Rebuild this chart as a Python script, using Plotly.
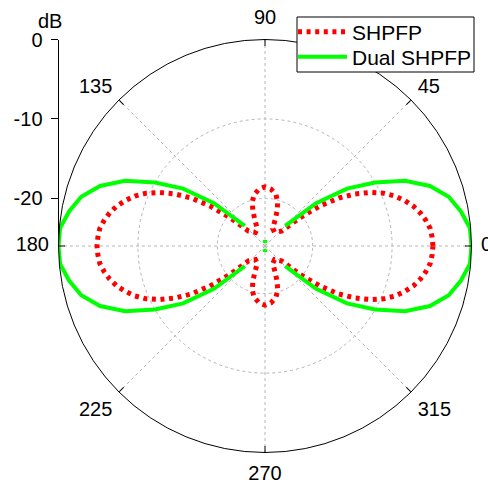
import plotly.graph_objects as go

FONT = "Liberation Sans, Arial, sans-serif"

# ---- data (dB vs angle in degrees) ----
shpfp_theta = [0, 3, 6, 9, 12, 15, 18, 21, 24, 27, 30, 33, 36, 39, 42, 55, 66, 69, 71, 74, 78, 84, 90,
               96, 102, 106, 109, 111, 114, 125, 138, 141, 144, 147, 150, 153, 156, 159, 162, 165, 168, 171, 174, 177, 180,
               183, 186, 189, 192, 195, 198, 201, 204, 207, 210, 213, 216, 219, 222, 235, 246, 249, 251, 254, 258, 264, 270,
               276, 282, 286, 289, 291, 294, 305, 318, 321, 324, 327, 330, 333, 336, 339, 342, 345, 348, 351, 354, 357, 360]
shpfp_db = [-4.85, -4.93, -5.08, -5.48, -6.0, -6.65, -7.5, -8.45, -9.65, -11.15, -12.9, -14.9, -17.4, -20.3, -23.2, -23.9, -23.6, -22.4, -21.3, -20.2, -19.4, -18.8, -18.55,
            -18.8, -19.4, -20.2, -21.3, -22.4, -23.6, -23.9, -23.2, -20.3, -17.4, -14.9, -12.9, -11.15, -9.65, -8.45, -7.5, -6.65, -6.0, -5.48, -5.08, -4.93, -4.85,
            -4.93, -5.08, -5.48, -6.0, -6.65, -7.5, -8.45, -9.65, -11.15, -12.9, -14.9, -17.4, -20.3, -23.2, -23.9, -23.6, -22.4, -21.3, -20.2, -19.4, -18.8, -18.55,
            -18.8, -19.4, -20.2, -21.3, -22.4, -23.6, -23.9, -23.2, -20.3, -17.4, -14.9, -12.9, -11.15, -9.65, -8.45, -7.5, -6.65, -6.0, -5.48, -5.08, -4.93, -4.85]

dual_theta = [0, 5, 10, 15, 20, 25, 30, 35, 40, 45, None,
              80, 90, 100, None,
              135, 140, 145, 150, 155, 160, 165, 170, 175, 180, 185, 190, 195, 200, 205, 210, 215, 220, 225, None,
              260, 270, 280, None,
              315, 320, 325, 330, 335, 340, 345, 350, 355, 360]
dual_db = [0.0, -0.1, -0.95, -2.05, -3.9, -6.55, -10.0, -13.4, -17.6, -22.4, None,
           -25.6, -25.3, -25.6, None,
           -22.4, -17.6, -13.4, -10.0, -6.55, -3.9, -2.05, -0.95, -0.1, 0.0, -0.1, -0.95, -2.05, -3.9, -6.55, -10.0, -13.4, -17.6, -22.4, None,
           -25.6, -25.3, -25.6, None,
           -22.4, -17.6, -13.4, -10.0, -6.55, -3.9, -2.05, -0.95, -0.1, 0.0]

angle_ticks = [0, 45, 90, 135, 180, 225, 270, 315]
angle_labels = ["0", "45", "90", "135", "180", "225", "270", "315"]
r_range = [-26, 0]
r_ticks = [-20, -10, 0]
r_labels = ["-20", "-10", "0"]
series_names = ["SHPFP", "Dual SHPFP"]

# ---- figure ----
W, H = 488, 482
cx, cy, R = 265, 246, 206.5
dom_x = [(cx - R) / W, (cx + R) / W]
dom_y = [(H - cy - R) / H, (H - cy + R) / H]
cy2 = 244
dom_y2 = [(H - cy2 - R) / H, (H - cy2 + R) / H]

fig = go.Figure()
fig.add_trace(go.Scatterpolar(r=shpfp_db, theta=shpfp_theta, mode="lines", name=series_names[0],
                              line=dict(color="#ff0000", width=5, dash="4px,4.6px"), legend="legend"))
fig.add_trace(go.Scatterpolar(r=dual_db, theta=dual_theta, mode="lines", name=series_names[1],
                              line=dict(color="#00ff00", width=4), connectgaps=False, legend="legend2"))
fig.add_trace(go.Scatterpolar(r=[], theta=[], subplot="polar2", showlegend=False, hoverinfo="skip"))
fig.add_trace(go.Scatter(x=[], y=[], showlegend=False, hoverinfo="skip"))

grid = "#b5b5b5"
leg_common = dict(x=293 / W, xanchor="left", yanchor="middle", bgcolor="rgba(0,0,0,0)",
                  borderwidth=0, itemwidth=49, font=dict(family=FONT, size=21, color="black"))
fig.update_layout(
    template="none",
    width=W, height=H, autosize=False,
    margin=dict(l=0, r=0, t=0, b=0, pad=0, autoexpand=False),
    paper_bgcolor="white", plot_bgcolor="rgba(0,0,0,0)",
    font=dict(family=FONT, size=20, color="black"),
    polar=dict(
        domain=dict(x=dom_x, y=dom_y), bgcolor="white",
        radialaxis=dict(range=r_range, tickvals=r_ticks, showticklabels=False, ticks="",
                        showline=False, gridcolor=grid, gridwidth=1, griddash="3px,3px"),
        angularaxis=dict(tickvals=angle_ticks, showticklabels=False, ticks="inside", ticklen=6,
                         tickcolor="black", tickwidth=1, showline=True, linecolor="black", linewidth=1,
                         gridcolor=grid, gridwidth=1, griddash="3px,3px",
                         direction="counterclockwise", rotation=0),
    ),
    polar2=dict(
        domain=dict(x=dom_x, y=dom_y2), bgcolor="rgba(0,0,0,0)",
        radialaxis=dict(range=r_range, visible=False),
        angularaxis=dict(tickvals=angle_ticks, ticktext=angle_labels, showline=False, showgrid=False,
                         ticks="outside", ticklen=5, tickcolor="rgba(0,0,0,0)",
                         tickfont=dict(family=FONT, size=20, color="black"),
                         direction="counterclockwise", rotation=0),
    ),
    xaxis=dict(domain=[(cx - R) / W, 0.2], visible=False, range=[0, 1], automargin=False),
    yaxis=dict(domain=[(H - cy) / H, (H - cy + R) / H], range=r_range, anchor="x",
               tickvals=r_ticks, ticktext=r_labels, showline=True, linecolor="black", linewidth=1,
               ticks="outside", ticklen=7, tickcolor="black", showgrid=False, zeroline=False,
               tickfont=dict(family=FONT, size=20, color="black"), ticklabelstandoff=4,
               fixedrange=True, automargin=False),
    legend=dict(y=1 - 32 / H, **leg_common),
    legend2=dict(y=1 - 57 / H, **leg_common),
    shapes=[dict(type="rect", xref="paper", yref="paper", x0=297 / W, x1=474 / W,
                 y0=1 - 72 / H, y1=1 - 17 / H, line=dict(color="black", width=1),
                 fillcolor="white", layer="above")],
    annotations=[dict(text="dB", x=49.5 / W, y=1 - 21 / H, xref="paper", yref="paper",
                      showarrow=False, xanchor="center", yanchor="middle",
                      font=dict(family=FONT, size=20, color="black"))],
    showlegend=True,
)

fig.write_html("out.html")
